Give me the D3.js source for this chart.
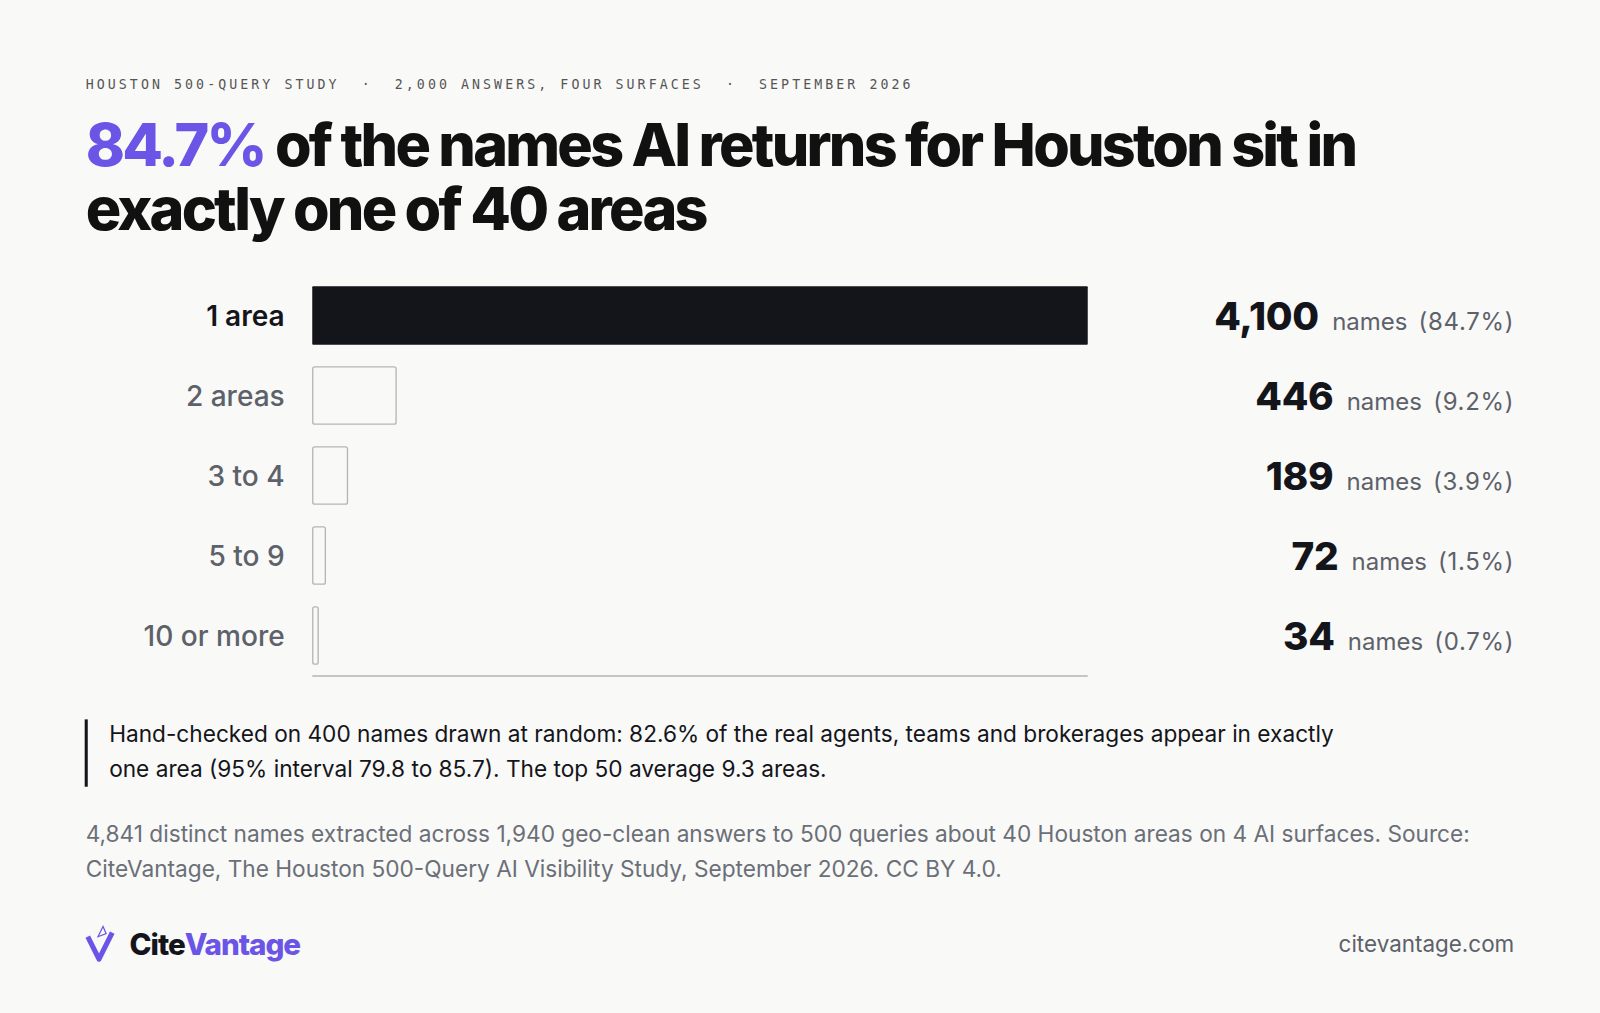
<!DOCTYPE html><html><head><meta charset="utf-8"><script src="https://cdn.jsdelivr.net/npm/d3@7"></script>
<style>body{margin:0;background:#f9f9f8}</style></head><body><svg id="c" width="1600" height="1013"></svg>
<script>
const categories=["1 area","2 areas","3 to 4","5 to 9","10 or more"];
const counts=[4100,446,189,72,34];
const shares=["84.7%","9.2%","3.9%","1.5%","0.7%"];
const root=d3.select("#c");
root.append("rect").attr("width",1600).attr("height",1013).attr("fill","#f9f9f8");
const svg=root.append("g").attr("transform","scale(1.0204)");
svg.append("text").attr("x",84).attr("y",87).attr("font-family","DejaVu Sans Mono").attr("font-size",13).attr("letter-spacing",3.0).attr("fill","#555")
 .text("HOUSTON 500-QUERY STUDY  ·  2,000 ANSWERS, FOUR SURFACES  ·  SEPTEMBER 2026").attr("xml:space","preserve");
const t=svg.append("text").attr("font-family","Inter").attr("font-weight",800).attr("font-size",58).attr("letter-spacing",-2.7).attr("fill","#111");
const l1=t.append("tspan").attr("x",84).attr("y",163);
l1.append("tspan").attr("fill","#6a55e6").text("84.7%");
l1.append("tspan").text(" of the names AI returns for Houston sit in");
t.append("tspan").attr("x",84).attr("y",225).text("exactly one of 40 areas");
const x=d3.scaleLinear().domain([0,4100]).range([306,1066]);
const y=d3.scaleBand().domain(categories).range([270,662]).paddingInner(0.27).paddingOuter(0.135);
const g=svg.append("g");
categories.forEach((c,i)=>{
 const yy=y(c),h=y.bandwidth(),cy=yy+h/2;
 g.append("rect").attr("x",x(0)+(i?0.5:0)).attr("y",yy+(i?0.5:0)).attr("width",Math.max(x(counts[i])-x(0)-(i?1:0),5)).attr("height",h-(i?1:0)).attr("rx",i?2:1)
  .attr("fill",i?"#f9f9f8":"#14151a").attr("stroke",i?"#b5b5b5":"none").attr("stroke-width",1.3);
 g.append("text").attr("x",279).attr("y",cy+10).attr("text-anchor","end").attr("font-family","Inter").attr("font-weight",i?500:600).attr("font-size",27.5).attr("fill",i?"#5d6169":"#14151a").text(c);
 const v=g.append("text").attr("x",1484).attr("y",cy+14).attr("text-anchor","end").attr("font-family","Inter").attr("xml:space","preserve");
 v.append("tspan").attr("font-weight",800).attr("font-size",38).attr("fill","#14151a").attr("letter-spacing",-0.3).text(counts[i].toLocaleString("en-US"));
 v.append("tspan").attr("font-size",23.5).attr("fill","#5d6169").attr("dx",13).text("names");
 v.append("tspan").attr("font-size",23.5).attr("fill","#5d6169").attr("dx",11).attr("letter-spacing",0.7).text("("+shares[i]+")");
});
svg.append("line").attr("x1",306).attr("x2",1066).attr("y1",662.5).attr("y2",662.5).attr("stroke","#b5b5b5").attr("stroke-width",1.3);
svg.append("rect").attr("x",83).attr("y",705).attr("width",3).attr("height",66).attr("fill","#14151a");
const n=svg.append("text").attr("font-family","Inter").attr("font-size",22.2).attr("fill","#14151a");
n.append("tspan").attr("x",107).attr("y",727).text("Hand-checked on 400 names drawn at random: 82.6% of the real agents, teams and brokerages appear in exactly");
n.append("tspan").attr("x",107).attr("y",761).text("one area (95% interval 79.8 to 85.7). The top 50 average 9.3 areas.");
const s=svg.append("text").attr("font-family","Inter").attr("font-size",22.2).attr("fill","#6b6f77");
s.append("tspan").attr("x",84).attr("y",825).text("4,841 distinct names extracted across 1,940 geo-clean answers to 500 queries about 40 Houston areas on 4 AI surfaces. Source:");
s.append("tspan").attr("x",84).attr("y",859).text("CiteVantage, The Houston 500-Query AI Visibility Study, September 2026. CC BY 4.0.");
svg.append("path").attr("d","M86,918 L97,940 L110,914").attr("fill","none").attr("stroke","#6a55e6").attr("stroke-width",5).attr("stroke-linejoin","round");
svg.append("path").attr("d","M96,918 L101,908 L104,915 Z").attr("fill","none").attr("stroke","#6a55e6").attr("stroke-width",1.2);
const lg=svg.append("text").attr("x",127).attr("y",936).attr("font-family","Inter").attr("font-weight",800).attr("font-size",29).attr("letter-spacing",-1);
lg.append("tspan").attr("fill","#14151a").text("Cite");
lg.append("tspan").attr("fill","#6a55e6").text("Vantage");
svg.append("text").attr("x",1484).attr("y",933).attr("text-anchor","end").attr("font-family","Inter").attr("font-size",22).attr("fill","#5d6169").text("citevantage.com");
</script></body></html>
